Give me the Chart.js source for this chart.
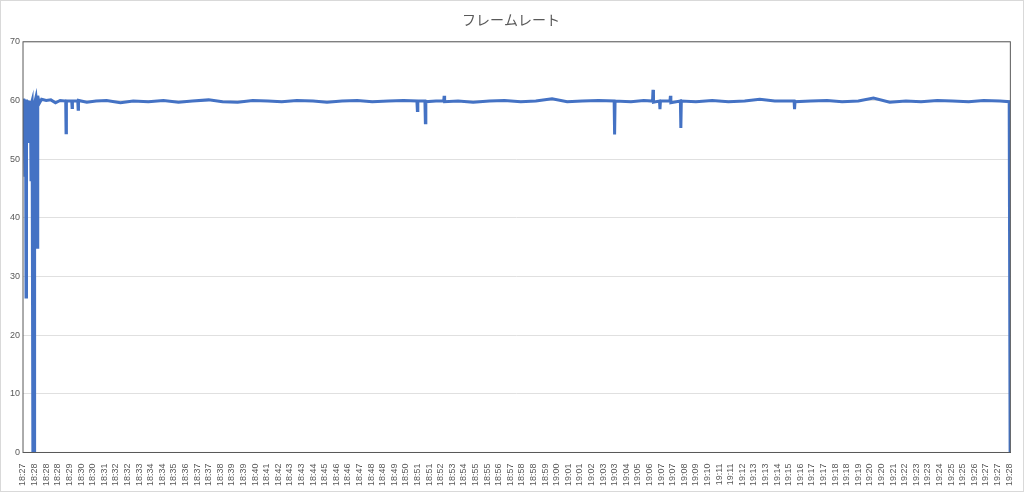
<!DOCTYPE html>
<html>
<head>
<meta charset="utf-8">
<script src="https://cdn.jsdelivr.net/npm/chart.js@4.4.0/dist/chart.umd.min.js"></script>
<style>
  html, body { margin: 0; padding: 0; background: #fff; }
  #wrap { width: 1024px; height: 492px; box-sizing: border-box; border: 1px solid #d9d9d9; }
</style>
</head>
<body>
<div id="wrap"><canvas id="c"></canvas></div>
<script>
const timeLabels = [
  "18:27","18:28","18:28","18:28","18:29","18:30","18:30","18:31","18:32","18:32",
  "18:33","18:34","18:34","18:35","18:36","18:37","18:37","18:38","18:39","18:39",
  "18:40","18:41","18:42","18:43","18:43","18:44","18:45","18:46","18:46","18:47",
  "18:48","18:48","18:49","18:50","18:51","18:51","18:52","18:53","18:54","18:55",
  "18:55","18:56","18:57","18:58","18:58","18:59","19:00","19:01","19:01","19:02",
  "19:03","19:03","19:04","19:05","19:06","19:07","19:07","19:08","19:09","19:10",
  "19:11","19:11","19:12","19:13","19:13","19:14","19:15","19:16","19:17","19:17",
  "19:18","19:18","19:19","19:20","19:20","19:21","19:22","19:23","19:23","19:24",
  "19:25","19:25","19:26","19:27","19:27","19:28"
];

// sample position (in label units) and frame rate
const samplePos = [
  0, 0.08, 0.17, 0.22, 0.26, 0.3, 0.35, 0.43, 0.48, 0.52, 0.56, 0.6, 0.65, 0.69, 0.74, 0.78, 0.84,
  0.86, 0.9, 0.95, 1.0, 1.05, 1.12, 1.16, 1.21, 1.25, 1.29, 1.4,
  1.6, 2.0, 2.4, 2.8, 3.2, 3.68, 3.71, 3.74, 4.2, 4.23, 4.26, 4.72, 4.75, 4.78, 5.5, 6.3, 7.2,
  8.4, 9.5, 10.8, 12.1, 13.4, 14.6, 16.0, 17.2, 18.5, 19.8, 21.1, 22.3, 23.6, 25.0, 26.2, 27.5,
  28.8, 30.1, 31.5, 32.8, 33.95, 33.99, 34.03, 34.64, 34.68, 34.72, 35.6, 36.26, 36.3, 36.34,
  37.5, 38.8, 40.2, 41.5, 42.9, 44.2, 45.6, 46.9, 48.2, 49.6, 50.95, 50.99, 51.03, 52.4, 53.5,
  54.26, 54.3, 54.34, 54.86, 54.9, 54.94, 55.76, 55.8, 55.84, 56.66, 56.7, 56.74, 58.0, 59.4,
  60.8, 62.2, 63.5, 64.8, 66.46, 66.5, 66.54, 67.9, 69.3, 70.6, 72.0, 73.3, 74.7, 76.1, 77.4,
  78.8, 80.1, 81.5, 82.8, 84.2, 85.0, 85.08
];
const frameRate = [
  60.3, 59.8, 47.0, 59.5, 26.5, 59.9, 59.9, 60.0, 59.5, 53.0, 59.7, 59.9, 58.0, 46.5, 59.6, 59.9, 59.5,
  0, 0, 0, 59.5, 60.0, 60.6, 59.8, 35.0, 59.9, 60.8, 59.5,
  60.2, 60.0, 60.1, 59.6, 60.0, 59.9, 54.5, 59.9, 59.9, 58.8, 59.9, 59.9, 58.5, 60.0, 59.7, 59.9, 60.0,
  59.6, 59.9, 59.8, 60.0, 59.7, 59.9, 60.1, 59.8, 59.7, 60.0, 59.9, 59.8, 60.0, 59.9, 59.7, 59.9,
  60.0, 59.8, 59.9, 60.0, 59.9, 58.3, 59.9, 59.9, 56.2, 59.8, 59.9, 59.9, 60.8, 59.8,
  59.9, 59.7, 59.9, 60.0, 59.8, 59.9, 60.3, 59.8, 59.9, 60.0, 59.9, 54.2, 59.9, 59.8, 60.0,
  59.9, 61.8, 59.7, 59.9, 58.5, 59.9, 59.9, 60.8, 59.6, 59.9, 55.3, 59.9, 59.8, 60.0,
  59.8, 59.9, 60.2, 59.9, 59.9, 58.5, 59.8, 59.9, 60.0, 59.8, 59.9, 60.4, 59.7, 59.9, 59.8,
  60.0, 59.9, 59.8, 60.0, 59.9, 59.8, 0
];

const yTicks = [0, 10, 20, 30, 40, 50, 60, 70];

const points = samplePos.map((p, i) => ({ x: p, y: frameRate[i] }));

const frameBorder = {
  id: 'frameBorder',
  afterDraw(chart) {
    const a = chart.chartArea, ctx = chart.ctx;
    ctx.save();
    ctx.strokeStyle = '#595959';
    ctx.lineWidth = 1;
    ctx.strokeRect(a.left, a.top, a.right - a.left, a.bottom - a.top);
    ctx.restore();
  }
};

new Chart(document.getElementById('c'), {
  type: 'line',
  data: {
    datasets: [{
      data: points,
      borderColor: '#4472C4',
      borderWidth: 3,
      pointRadius: 0,
      tension: 0
    }]
  },
  options: {
    responsive: true,
    maintainAspectRatio: false,
    animation: false,
    layout: { padding: { left: 6, right: 8, top: 4, bottom: 2 } },
    plugins: {
      legend: { display: false },
      tooltip: { enabled: false },
      title: {
        display: true,
        text: 'フレームレート',
        color: '#595959',
        font: { family: 'Noto Sans CJK JP', size: 14, weight: 'normal' },
        padding: { top: 6, bottom: 14 }
      }
    },
    scales: {
      x: {
        type: 'linear',
        min: 0,
        max: timeLabels.length - 1 + 0.1,
        afterBuildTicks(axis) {
          axis.ticks = timeLabels.map((_, i) => ({ value: i }));
        },
        ticks: {
          autoSkip: false,
          maxRotation: 90,
          minRotation: 90,
          color: '#595959',
          font: { family: 'Liberation Sans', size: 9 },
          callback: (v) => timeLabels[v]
        },
        grid: { display: false },
        border: { color: '#595959' }
      },
      y: {
        min: 0,
        max: 70,
        afterBuildTicks(axis) {
          axis.ticks = yTicks.map(v => ({ value: v }));
        },
        ticks: {
          color: '#595959',
          font: { family: 'Liberation Sans', size: 9 }
        },
        grid: { color: '#e0e0e0', drawTicks: false },
        border: { display: false }
      }
    }
  },
  plugins: [frameBorder]
});
</script>
</body>
</html>
